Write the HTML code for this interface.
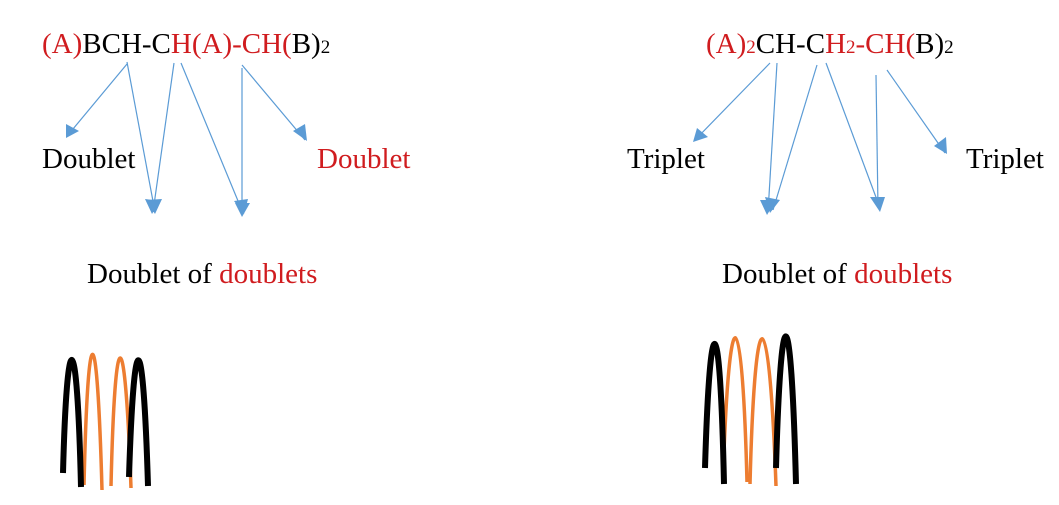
<!DOCTYPE html>
<html><head><meta charset="utf-8"><style>
html,body{margin:0;padding:0;background:#fff;}
svg{display:block;}
text{font-family:"Liberation Serif",serif;font-size:29px;}
.r{fill:#d01c1f;}
</style></head><body>
<svg width="1059" height="505" viewBox="0 0 1059 505" xmlns="http://www.w3.org/2000/svg">
<g stroke="#5b9bd5" stroke-width="1.2" fill="none">
<path d="M127,64 L68,135"/><path d="M127,62 L155,212"/><path d="M174,63 L153,212"/>
<path d="M181,63 L243,213"/><path d="M242,68 L242,215"/><path d="M242,65 L305,140"/>
<path d="M770,63 L695,140"/><path d="M777,63 L768,212"/><path d="M817,65 L773,210"/>
<path d="M826,63 L880,208"/><path d="M876,75 L878,208"/><path d="M887,70 L945,153"/>
</g>
<g fill="#5b9bd5">
<polygon points="66,138 66,124 79,131"/>
<polygon points="146,200 162,199 155,214"/><polygon points="145,199 160,201 152,214"/>
<polygon points="234,201 248,199 244,214"/><polygon points="235,203 250,203 242,217"/>
<polygon points="293,131 305,124 307,141"/>
<polygon points="693,142 697,128 708,137"/>
<polygon points="760,200 776,200 767,215"/><polygon points="765,197 780,200 770,213"/>
<polygon points="870,197 885,197 880,212"/>
<polygon points="934,146 946,137 947,154"/>
</g>
<text x="42" y="53"><tspan class="r">(A)</tspan>BCH-C<tspan class="r">H(A)-CH(</tspan>B)<tspan font-size="19">2</tspan></text>
<text x="706" y="53"><tspan class="r">(A)<tspan font-size="19">2</tspan></tspan>CH-C<tspan class="r">H<tspan font-size="19">2</tspan>-CH(</tspan>B)<tspan font-size="19">2</tspan></text>
<text x="42" y="168">Doublet</text>
<text x="317" y="168" class="r">Doublet</text>
<text x="87" y="283">Doublet of <tspan class="r">doublets</tspan></text>
<text x="627" y="168">Triplet</text>
<text x="966" y="168">Triplet</text>
<text x="722" y="283">Doublet of <tspan class="r">doublets</tspan></text>
<g fill="none">
<path d="M84,485 C88,310 97,310 102,490" stroke="#ed7d31" stroke-width="3.5"/>
<path d="M111,486 C115,315 125,315 131,488" stroke="#ed7d31" stroke-width="3.5"/>
<path d="M63,473 C67,320 77,320 81,487" stroke="#000" stroke-width="6"/>
<path d="M129,477 C134,320 143,320 148,486" stroke="#000" stroke-width="6"/>
<path d="M723,480 C729,290 742,290 747,482" stroke="#ed7d31" stroke-width="3.5"/>
<path d="M750,484 C755,290 769,290 776,486" stroke="#ed7d31" stroke-width="3.5"/>
<path d="M705,468 C710,300 720,300 724,484" stroke="#000" stroke-width="6"/>
<path d="M776,468 C781,290 791,290 796,484" stroke="#000" stroke-width="6"/>
</g>
</svg>
</body></html>
